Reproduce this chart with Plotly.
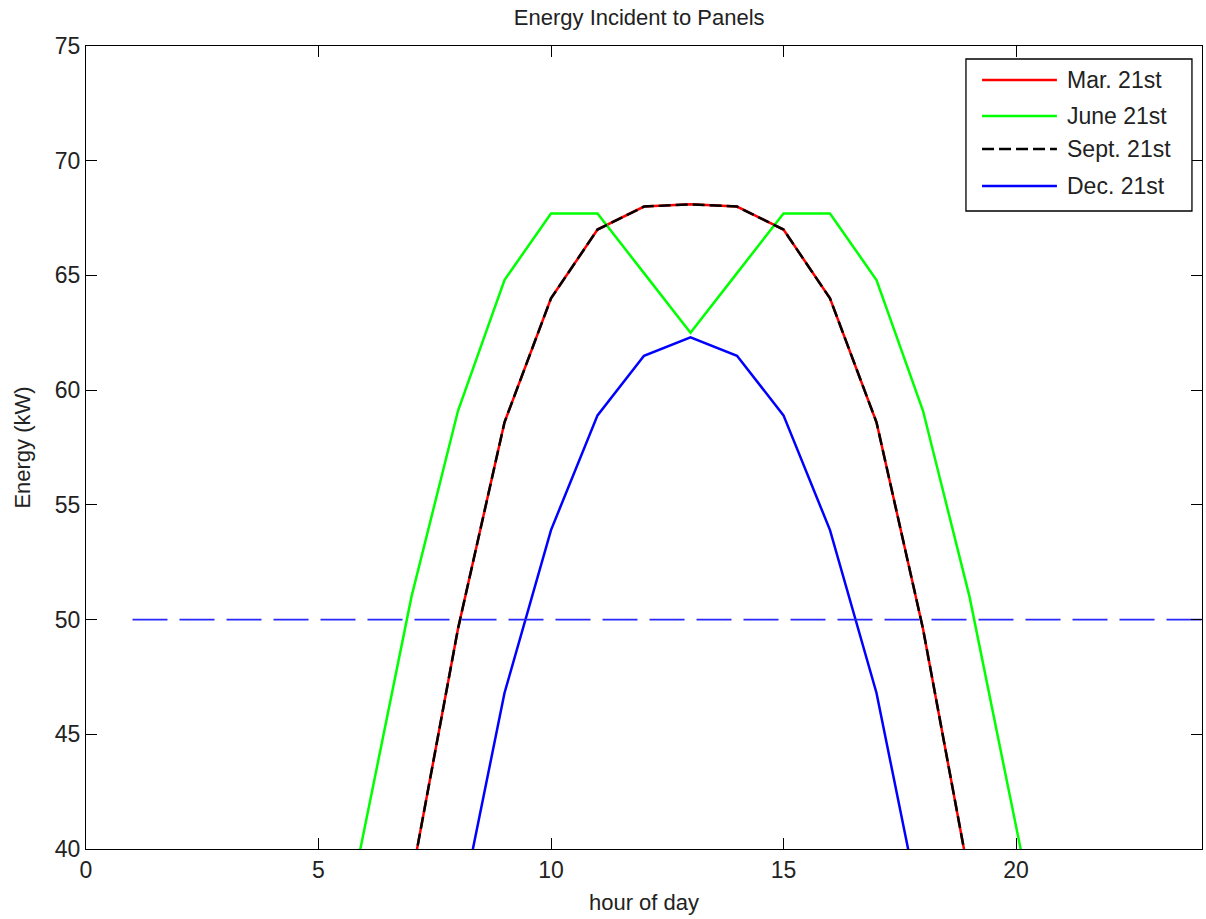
import plotly.graph_objects as go

# Hourly energy incident on the panels (kW) for four days of the year
hours_mar = list(range(7, 20))
energy_mar = [38.7, 49.6, 58.6, 64.0, 67.0, 68.0, 68.1, 68.0, 67.0, 64.0, 58.6, 49.6, 38.7]

hours_june = list(range(5, 22))
energy_june = [31.0, 41.0, 51.0, 59.1, 64.8, 67.7, 67.7, 65.1, 62.5, 65.1, 67.7, 67.7, 64.8, 59.1, 51.0, 41.0, 31.0]

hours_sept = list(range(7, 20))
energy_sept = [38.7, 49.6, 58.6, 64.0, 67.0, 68.0, 68.1, 68.0, 67.0, 64.0, 58.6, 49.6, 38.7]

hours_dec = list(range(8, 19))
energy_dec = [36.8, 46.8, 53.9, 58.9, 61.5, 62.3, 61.5, 58.9, 53.9, 46.8, 36.8]

threshold_hours = [1, 24]
threshold_kw = 50

series_names = ["Mar. 21st", "June 21st", "Sept. 21st", "Dec. 21st"]
series_colors = ["#ff0000", "#00ff00", "#000000", "#0000ff"]
series_dash = ["solid", "solid", "12px,5px", "solid"]

x_ticks = [0, 5, 10, 15, 20]
y_ticks = [40, 45, 50, 55, 60, 65, 70, 75]

FONT = "Liberation Sans, Arial, sans-serif"
FS = 23

series = [
    (hours_mar, energy_mar),
    (hours_june, energy_june),
    (hours_sept, energy_sept),
    (hours_dec, energy_dec),
]

fig = go.Figure()
for (xs, ys), name, color, dash in zip(series, series_names, series_colors, series_dash):
    fig.add_trace(go.Scatter(
        x=xs, y=ys, mode="lines", name=name,
        line=dict(color=color, width=2.5, dash=dash),
        showlegend=False,
    ))

fig.add_trace(go.Scatter(
    x=threshold_hours, y=[threshold_kw] * len(threshold_hours), mode="lines",
    line=dict(color="rgb(40,40,255)", width=1.8, dash="35px,12px"),
    showlegend=False,
))

# Boxed legend in the upper-right corner of the axes
leg_x0, leg_x1 = 0.7885, 0.991
leg_y0, leg_y1 = 0.7945, 0.9838
row_y = [0.9577, 0.9128, 0.8717, 0.8257]
shapes = [dict(type="rect", xref="x domain", yref="y domain",
               x0=leg_x0, x1=leg_x1, y0=leg_y0, y1=leg_y1,
               line=dict(color="black", width=1.3), fillcolor="white", layer="above")]
annotations = []
for name, color, dash, ry in zip(series_names, series_colors, series_dash, row_y):
    shapes.append(dict(type="line", xref="x domain", yref="y domain",
                       x0=0.8029, x1=0.870, y0=ry, y1=ry,
                       line=dict(color=color, width=2.5, dash=dash), layer="above"))
    annotations.append(dict(xref="x domain", yref="y domain", x=0.877, y=ry,
                            text=name, showarrow=False, xanchor="left", yanchor="middle",
                            font=dict(family=FONT, size=FS, color="#222")))

axis_common = dict(
    showgrid=False, zeroline=False, showline=True, linecolor="black", linewidth=1.3,
    mirror="ticks", ticks="inside", ticklen=11, tickcolor="black", tickwidth=1.3,
    tickfont=dict(family=FONT, size=FS, color="#222"),
)

fig.update_layout(
    width=1206, height=919,
    margin=dict(l=86, r=4, t=46, b=70),
    paper_bgcolor="white", plot_bgcolor="white",
    title=dict(text="Energy Incident to Panels", x=0.53, xanchor="center",
               y=0.99, yanchor="top",
               font=dict(family=FONT, size=FS - 1, color="#222")),
    xaxis=dict(range=[0, 24], tickvals=x_ticks,
               title=dict(text="hour of day", standoff=12,
                          font=dict(family=FONT, size=FS - 1, color="#222")),
               **axis_common),
    yaxis=dict(range=[40, 75], tickvals=y_ticks,
               title=dict(text="Energy (kW)", standoff=17,
                          font=dict(family=FONT, size=FS - 1, color="#222")),
               **axis_common),
    shapes=shapes,
    annotations=annotations,
    showlegend=False,
)

fig.write_html("out.html")
